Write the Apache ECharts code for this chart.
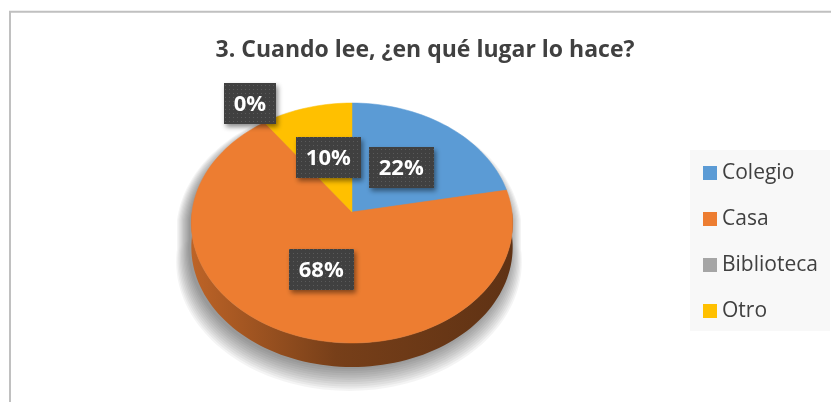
<!DOCTYPE html>
<html><head><meta charset="utf-8">
<script src="https://cdn.jsdelivr.net/npm/echarts@6/dist/echarts.min.js"></script>
<style>html,body{margin:0;padding:0;background:#fff}#c{width:831px;height:402px}</style>
</head><body><div id="c"></div>
<script>
// ---- data ----
const titleText = '3. Cuando lee, ¿en qué lugar lo hace?';
const categories = ['Colegio', 'Casa', 'Biblioteca', 'Otro'];
const values = [22, 68, 0, 10];
const colors = ['#5B9BD5', '#ED7D31', '#A5A5A5', '#FFC000'];

// ---- geometry / style ----
const P = { cx: 352, cy: 212, A: 119, B: 160, p: 0.0917, D: 24 };
const labelFont = 'bold 22px "Open Sans"';

const total = values.reduce((a, b) => a + b, 0);
const starts = [];
(function () { let acc = 0; values.forEach(v => { starts.push(acc / total * 360); acc += v; }); })();

function proj(theta, r, dz) {
  const t = theta * Math.PI / 180;
  const u = r * Math.sin(t), v = -r * Math.cos(t);
  const w = 1 / (1 - P.p * v);
  return [P.cx + P.B * u * w, P.cy + P.A * v * w + (dz || 0)];
}
function arcPts(a0, a1, r, dz, step) {
  const n = Math.max(2, Math.ceil(Math.abs(a1 - a0) / (step || 2)));
  const pts = [];
  for (let k = 0; k <= n; k++) pts.push(proj(a0 + (a1 - a0) * k / n, r, dz));
  return pts;
}
function shade(hex, f) {
  const n = parseInt(hex.slice(1), 16);
  const r = Math.round(((n >> 16) & 255) * f), g = Math.round(((n >> 8) & 255) * f), b = Math.round((n & 255) * f);
  return 'rgb(' + r + ',' + g + ',' + b + ')';
}

// dotted label background pattern
const pc = document.createElement('canvas'); pc.width = 4; pc.height = 4;
const pg = pc.getContext('2d');
pg.fillStyle = '#404040'; pg.fillRect(0, 0, 4, 4);
pg.fillStyle = '#5a5a5a'; pg.fillRect(1, 1, 1, 1);
const measure = document.createElement('canvas').getContext('2d');

function renderItem(params, api) {
  const i = params.dataIndex;
  const val = api.value(0);
  const a0 = starts[i], a1 = a0 + val / total * 360;
  const children = [];
  if (i === 0) {
    // soft layered shadow under the pie
    for (let k = 0; k < 11; k++) {
      const r = 1 + 0.0075 * k;
      const sh = arcPts(270, 450, r, 8).concat(arcPts(90, 270, r, P.D + 2 + 1.1 * k)).map(q => [q[0] - 3, q[1]]);
      children.push({ type: 'polygon', shape: { points: sh }, z2: 0, silent: true,
        style: { fill: 'rgba(0,0,0,0.042)' } });
    }
  }
  if (val > 0) {
    // front side
    const s0 = Math.max(a0, 90), s1 = Math.min(a1, 270);
    if (s1 > s0) {
      const side = arcPts(s0, s1, 1, 0).concat(arcPts(s1, s0, 1, P.D));
      children.push({ type: 'polygon', shape: { points: side }, z2: 2,
        style: { fill: { type: 'linear', x: 190, y: 0, x2: 514, y2: 0, global: true,
          colorStops: [{ offset: 0, color: shade(colors[i], 0.8) }, { offset: 0.45, color: shade(colors[i], 0.5) }, { offset: 1, color: shade(colors[i], 0.4) }] } } });
    }
    // top face
    const top = [proj(0, 0)].concat(arcPts(a0, a1, 1, 0));
    children.push({ type: 'polygon', shape: { points: top }, z2: 10,
      style: { fill: colors[i], stroke: colors[i], lineWidth: 0.5 } });
  }
  // label
  const txt = Math.round(val / total * 100) + '%';
  const mid = val > 0 ? (a0 + a1) / 2 : a0;
  const c = proj(mid, val > 0 ? 0.5 : 1.18);
  if (val === 0) c[1] -= 4;
  measure.font = labelFont;
  const tw = measure.measureText(txt).width;
  const bw = tw + 20, bh = 41;
  children.push({ type: 'rect', z2: 20, shape: { x: Math.round(c[0] - bw / 2), y: Math.round(c[1] - bh / 2), width: Math.round(bw), height: bh },
    style: { fill: { image: pc, repeat: 'repeat' }, shadowBlur: 5, shadowOffsetX: 2, shadowOffsetY: 3, shadowColor: 'rgba(0,0,0,0.45)' } });
  children.push({ type: 'text', z2: 21, x: c[0], y: c[1] + 1,
    style: { text: txt, fill: '#ffffff', font: labelFont, align: 'center', verticalAlign: 'middle' } });
  return { type: 'group', children: children };
}

const chart = echarts.init(document.getElementById('c'), null, { renderer: 'canvas' });
chart.setOption({
  animation: false,
  color: colors,
  graphic: [
    { type: 'rect', z: -10, shape: { x: 10, y: 11.8, width: 840, height: 400 }, style: { fill: '#ffffff', stroke: '#c0c0c0', lineWidth: 2 } },
    { type: 'rect', z: -9, shape: { x: 690, y: 150, width: 140, height: 181 }, style: { fill: '#f8f8f8' } },
    { type: 'text', z: 5, x: 425, y: 50.5, style: { text: titleText, font: 'bold 23px "Open Sans"', fill: '#404040', align: 'center', verticalAlign: 'middle' } }
  ],
  legend: {
    data: categories, orient: 'vertical', left: 698, top: 157.5,
    itemWidth: 14, itemHeight: 14, itemGap: 25, icon: 'rect', selectedMode: false,
    textStyle: { fontFamily: 'Open Sans', fontSize: 21, lineHeight: 20, color: '#404040' }
  },
  series: [
    { type: 'pie', name: 'legendProxy', radius: [0, 0], center: [P.cx, P.cy], silent: true,
      label: { show: false }, labelLine: { show: false },
      data: categories.map((c, i) => ({ name: c, value: values[i] })) },
    { type: 'custom', name: 'pie3d', coordinateSystem: 'none', renderItem: renderItem,
      data: values.map(v => [v]) }
  ]
});
</script></body></html>
